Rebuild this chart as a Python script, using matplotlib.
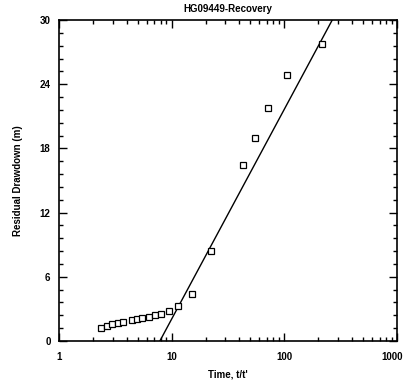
import numpy as np
import matplotlib.pyplot as plt
import matplotlib.transforms as mtransforms
from matplotlib.ticker import LogLocator, FixedLocator, MultipleLocator, NullFormatter

# observed recovery data (t/t', residual drawdown in m)
time_ratio = [2.37, 2.70, 2.99, 3.32, 3.72, 4.47, 4.89, 5.42, 6.25, 7.06, 7.98,
              9.46, 11.45, 15.1, 22.3, 42.9, 54.5, 71.5, 106, 214]
drawdown = [1.24, 1.43, 1.59, 1.68, 1.80, 1.96, 2.03, 2.12, 2.27, 2.43, 2.55,
            2.77, 3.24, 4.36, 8.38, 16.48, 18.97, 21.75, 24.86, 27.79]

# fitted straight line (semi-log)
fit_t = [7.87, 266]
fit_s = [0, 30]

plt.rcParams['font.family'] = ['Liberation Sans', 'DejaVu Sans']
plt.rcParams['font.weight'] = 'bold'

fig = plt.figure(figsize=(4.06, 3.81), dpi=100)
ax = fig.add_axes([0.145, 0.105, 0.833, 0.8425])

ax.plot(fit_t, fit_s, color='black', lw=1.0)
ax.plot(time_ratio, drawdown, linestyle='none', marker='s', markersize=4.5,
        markerfacecolor='white', markeredgecolor='black', markeredgewidth=0.9)

ax.set_xscale('log')
ax.set_xlim(1, 1000)
ax.set_ylim(0, 30)

ax.xaxis.set_major_locator(FixedLocator([1, 10, 100, 1000]))
ax.set_xticklabels(['1', '10', '100', '1000'])
ax.xaxis.set_minor_locator(LogLocator(base=10, subs=np.arange(2, 10)))
ax.xaxis.set_minor_formatter(NullFormatter())
ax.yaxis.set_major_locator(MultipleLocator(6))
ax.yaxis.set_minor_locator(MultipleLocator(1.2))

ax.tick_params(which='both', direction='in', top=True, right=True, width=1.0,
               labelsize=7)
ax.tick_params(axis='x', pad=8)
ax.tick_params(axis='y', pad=6)
ax.tick_params(which='major', length=6)
ax.tick_params(which='minor', length=3)
for s in ax.spines.values():
    s.set_linewidth(1.2)

# nudge the last x label so it stays inside the figure
last = ax.get_xticklabels()[-1]
last.set_transform(last.get_transform() + mtransforms.ScaledTranslation(-5 / 100, 0, fig.dpi_scale_trans))

ax.set_title('HG09449-Recovery', fontsize=7, fontweight='bold', pad=6)
ax.set_xlabel("Time, t/t'", fontsize=7, fontweight='bold', labelpad=5)
ax.set_ylabel('Residual Drawdown (m)', fontsize=7, fontweight='bold', labelpad=12)

fig.savefig('out.png', dpi=100)
